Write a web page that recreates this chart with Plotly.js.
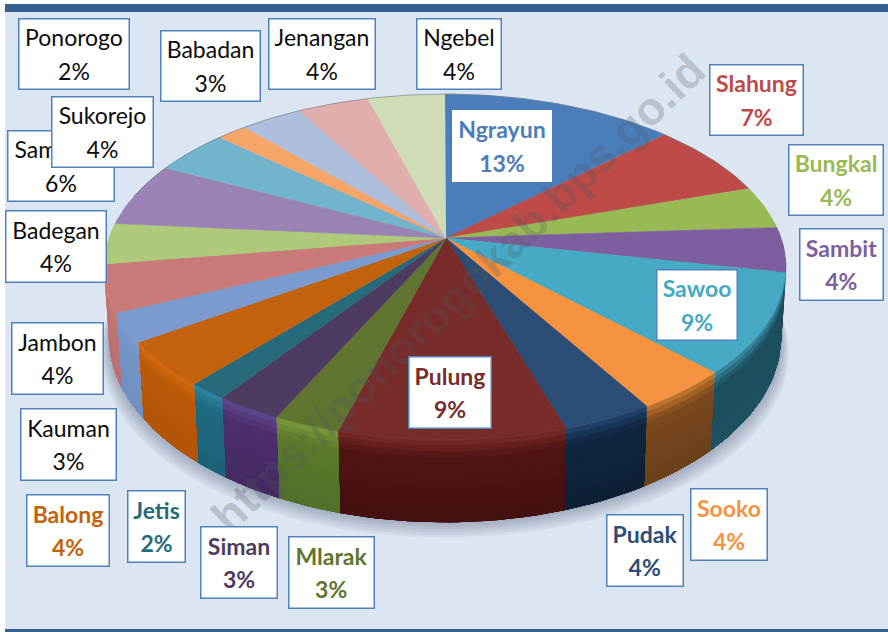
<!DOCTYPE html>
<html><head><meta charset="utf-8">
<script src="https://cdn.plot.ly/plotly-3.0.1.min.js"></script>
<style>html,body{margin:0;padding:0;background:#fff}#c{width:888px;height:632px}</style>
</head><body><div id="c"></div><script>
// ---- data ----
const districts = ["Ngrayun","Slahung","Bungkal","Sambit","Sawoo","Sooko","Pudak","Pulung","Mlarak","Siman","Jetis","Balong","Kauman","Jambon","Badegan","Sampung","Sukorejo","Ponorogo","Babadan","Jenangan","Ngebel"];
const shares = [13.0,7.0,4.0,4.2,9.3,3.9,3.7,9.2,2.7,2.7,1.6,4.2,2.7,4.4,3.8,6.0,4.2,1.7,3.4,4.0,4.3];
const percentLabels = ["13%","7%","4%","4%","9%","4%","4%","9%","3%","3%","2%","4%","3%","4%","4%","6%","4%","2%","3%","4%","4%"];
// ---- styles ----
const sliceColors = ["#4a7ebb","#be4b48","#98b954","#7d5fa0","#46aac5","#f69240","#2c4d75","#772c2a","#5f7530","#4d3b62","#276a7c","#c2620c","#7b9bd0","#c97a78","#afc97a","#9b82b4","#72b4cc","#f8a56a","#adbfdd","#e0aeac","#cfdcb5"];
const wallBevel = {3:"#5a4078",4:"#3b90a8",5:"#c87a30",6:"#1f4470",7:"#7a2a28",8:"#7d9a3a",9:"#5f4a90",10:"#2a88a0",11:"#d66a10",12:"#7b9ad0",13:"#c97a78"};
const wallMid   = {3:"#3a2a50",4:"#1d4f5e",5:"#7a481c",6:"#10253f",7:"#4f1514",8:"#5c7a2a",9:"#4c2f6c",10:"#1f6a80",11:"#bc5a08",12:"#7595c8",13:"#c07572"};
const wallLow   = {3:"#302240",4:"#1d5060",5:"#6a411c",6:"#0d2036",7:"#441010",8:"#50702a",9:"#452a62",10:"#1c6278",11:"#b05408",12:"#6f90c0",13:"#b87070"};
const labelColors = {Ngrayun:"#4a7ebb",Slahung:"#be4b48",Bungkal:"#98b954",Sambit:"#7d5fa0",Sawoo:"#46aac5",Sooko:"#f69240",Pudak:"#2c4d75",Pulung:"#772c2a",Mlarak:"#5f7530",Siman:"#4d3b62",Jetis:"#276a7c",Balong:"#c2620c"};
// ---- label box layout [left, top, right, bottom] ----
const labelBoxes = {Sampung:[7,130,115,202],Sukorejo:[51,96,154,168],Ponorogo:[18,18,130,90],Babadan:[160,30,261,102],Jenangan:[268,18,376,90],Ngebel:[416,18,502,90],Ngrayun:[452,110,552,182],Slahung:[709,64,804,136],Bungkal:[788,144,884,216],Sambit:[799,228,884,301],Sawoo:[656,269,738,341],Sooko:[690,488,768,561],Pudak:[606,514,684,587],Pulung:[408,356,492,429],Mlarak:[288,536,375,609],Siman:[200,526,278,599],Jetis:[127,490,186,563],Balong:[26,494,110,567],Kauman:[20,408,117,481],Jambon:[11,322,104,395],Badegan:[5,210,107,283]};
const labelOrder = ["Sampung","Sukorejo","Ponorogo","Babadan","Jenangan","Ngebel","Ngrayun","Slahung","Bungkal","Sambit","Sawoo","Sooko","Pudak","Pulung","Mlarak","Siman","Jetis","Balong","Kauman","Jambon","Badegan"];

// ---- perspective geometry of the tilted disc ----
const CX=445, CY=238, A=336, B=168, K=0.1677, DEPTH=82, INSET=0.015;
const STEP=1.5;
function proj(deg,t){
  const r=deg*Math.PI/180, u=Math.sin(r), v=Math.cos(r), w=1+K*v;
  const px=A*u/w, py=-B*v/w;
  const d=DEPTH*(1-K)/w*t;
  return [CX+px*(1-INSET*t), CY+py+d];
}
function arc(a,b,t){ const o=[]; const n=Math.max(2,Math.ceil(Math.abs(b-a)/STEP));
  for(let i=0;i<=n;i++) o.push(proj(a+(b-a)*i/n,t)); return o; }
function poly(pts,color,lw){ return {type:"scatter",mode:"lines",x:pts.map(p=>p[0]),y:pts.map(p=>p[1]),fill:"toself",fillcolor:color,
  line:{color:color,width:lw===undefined?0.6:lw},hoverinfo:"skip",showlegend:false}; }
function hex(c){return [1,3,5].map(i=>parseInt(c.substr(i,2),16));}
function mix(a,b,f){const x=hex(a),y=hex(b);return "rgb("+x.map((v,i)=>Math.round(v+(y[i]-v)*f)).join(",")+")";}

const traces=[];
// soft shadow
for(let i=6;i>=1;i--){
  const pts=arc(0,360,1).map(p=>[CX+(p[0]-CX)*(1+i*0.004),p[1]+i*2.6]);
  traces.push(poly(pts,"rgba(70,90,120,0.07)",0));
}
// side wall: each band reaches to the bottom edge and is overpainted by the next one, so no seams show
const bounds=[0]; shares.forEach(s=>bounds.push(bounds[bounds.length-1]+s));
const BANDS=14;
for(let i=0;i<shares.length;i++){
  if(!wallMid[i]) continue;
  const a=Math.max(bounds[i]*3.6,88), b=Math.min(bounds[i+1]*3.6,278);
  for(let j=0;j<BANDS;j++){
    const t0=j/BANDS, tm=(j+0.5)/BANDS;
    const col = tm<0.22 ? mix(wallBevel[i],wallMid[i],tm/0.22) : mix(wallMid[i],wallLow[i],(tm-0.22)/0.78);
    traces.push(poly(arc(a,b,t0).concat(arc(b,a,1)),col,0.4));
  }
}
// top surface
for(let i=0;i<shares.length;i++){
  const a=bounds[i]*3.6,b=bounds[i+1]*3.6;
  traces.push(poly([[CX+1,CY]].concat(arc(a,b,0)),sliceColors[i]));
}
// faint outline along the far rim
const farRim=arc(285,432,0);
traces.push({type:"scatter",mode:"lines",x:farRim.map(p=>p[0]),y:farRim.map(p=>p[1]),line:{color:"rgba(105,115,125,0.55)",width:1},hoverinfo:"skip",showlegend:false});

// annotations
const annotations=[{x:458,y:293,xref:"x",yref:"y",text:"https://ponorogokab.bps.go.id",showarrow:false,textangle:-44,
  font:{family:"Liberation Sans",size:46,color:"rgba(80,85,95,0.27)",weight:700},xanchor:"center",yanchor:"middle"}];
labelOrder.forEach(name=>{
  const i=districts.indexOf(name), box=labelBoxes[name], colored=labelColors[name];
  const st="<span style='font-size:23px'>", en="</span>";
  annotations.push({x:box[0],y:box[1],xref:"x",yref:"y",xanchor:"left",yanchor:"top",showarrow:false,
    text:(colored?"<b>":"")+st+name+en+"<br>"+st+percentLabels[i]+en+(colored?"</b>":""),
    width:box[2]-box[0]-3,height:box[3]-box[1]-3,align:"center",valign:"middle",
    bgcolor:"#ffffff",bordercolor:name==="Ngrayun"?"#ffffff":"#4f81bd",borderwidth:1.5,borderpad:0,
    font:{family:"Lato",size:25.4,color:colored||"#0c0c0c"}});
});

const layout={width:888,height:632,margin:{l:0,r:0,t:0,b:0},paper_bgcolor:"#ffffff",plot_bgcolor:"rgba(0,0,0,0)",
  xaxis:{range:[0,888],visible:false,fixedrange:true},
  yaxis:{range:[632,0],visible:false,fixedrange:true},
  shapes:[
    {type:"rect",xref:"x",yref:"y",x0:5,x1:888,y0:4,y1:632,fillcolor:"#dce6f2",line:{width:0},layer:"below"},
    {type:"rect",xref:"x",yref:"y",x0:5,x1:888,y0:4,y1:12,fillcolor:"#376092",line:{width:0},layer:"below"},
    {type:"rect",xref:"x",yref:"y",x0:5,x1:888,y0:629,y1:632,fillcolor:"#376092",line:{width:0},layer:"below"}
  ],annotations:annotations,showlegend:false};
Plotly.newPlot("c",traces,layout,{displayModeBar:false,staticPlot:true});
</script></body></html>
